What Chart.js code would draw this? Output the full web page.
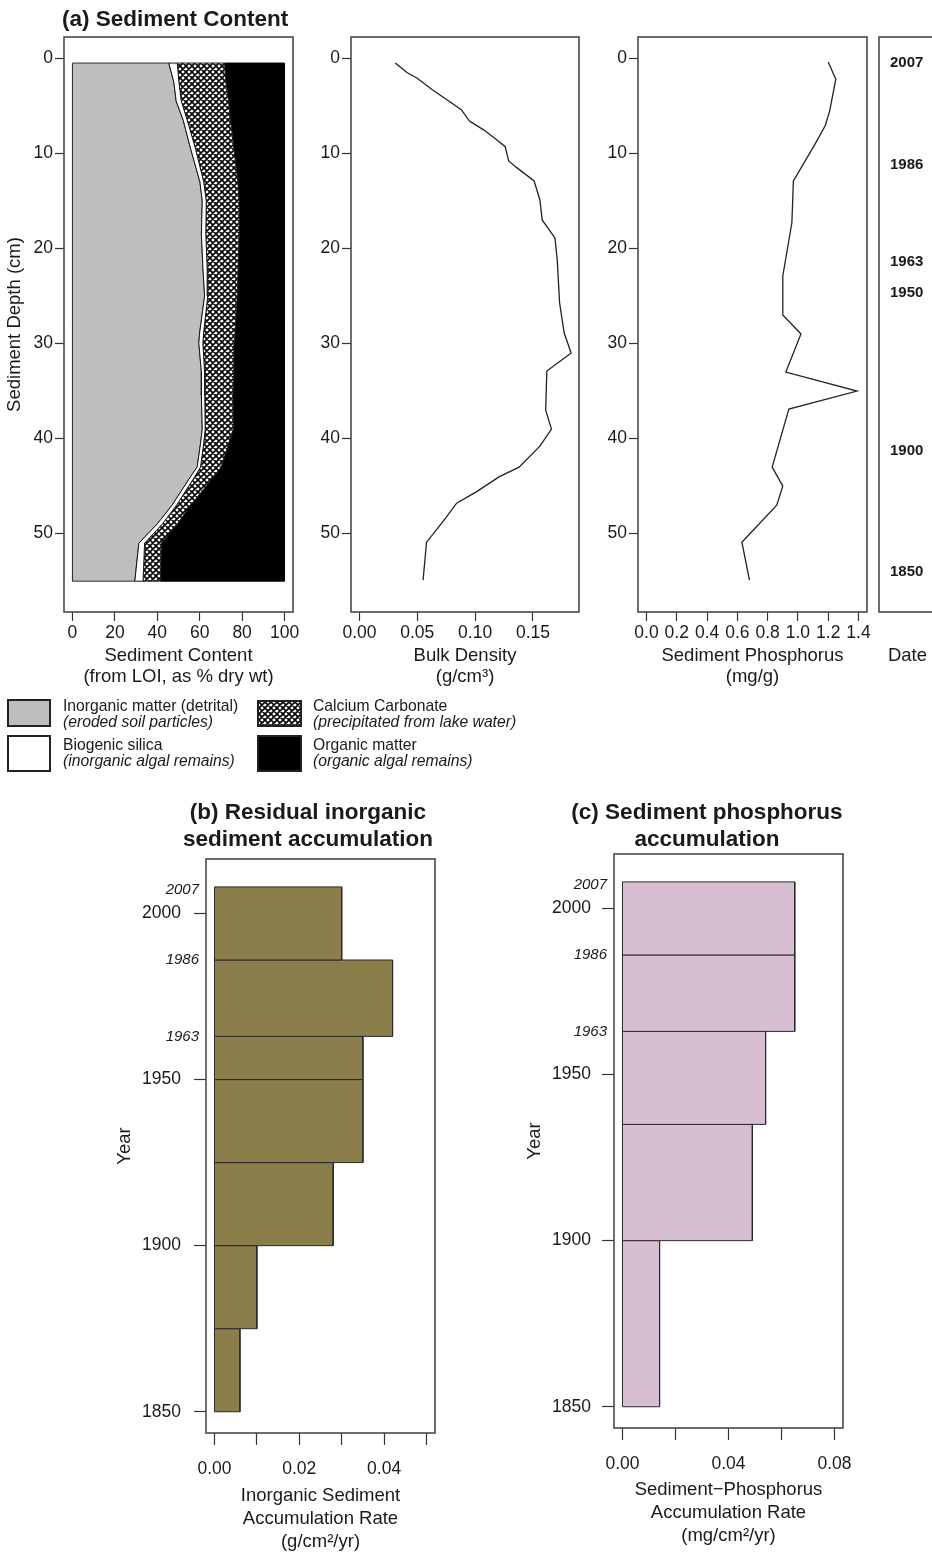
<!DOCTYPE html>
<html>
<head>
<meta charset="utf-8">
<script src="https://cdn.jsdelivr.net/npm/chart.js@4.4.0/dist/chart.umd.min.js"></script>
<style>
html, body { margin: 0; padding: 0; background: #fff; overflow: hidden; }
body { width: 932px; height: 1555px; position: relative; font-family: "Liberation Sans", Arial, sans-serif; color: #1a1a1a; }
canvas, .t, .sw { position: absolute; }
.t { white-space: nowrap; }
.ttl { font-weight: bold; font-size: 22.5px; line-height: 27px; text-align: center; }
.lg { font-size: 15.7px; line-height: 16px; }
.lg i { display: block; }
.sw { border: 2px solid #222; box-sizing: border-box; }
</style>
</head>
<body>
<canvas id="cContent" width="300" height="700" style="left:0;top:0"></canvas>
<canvas id="cBulk" width="290" height="700" style="left:300px;top:0"></canvas>
<canvas id="cPhos" width="285" height="700" style="left:590px;top:0"></canvas>
<canvas id="cDate" width="80" height="700" style="left:870px;top:0"></canvas>
<canvas id="cInorgRate" width="345" height="715" style="left:100px;top:840px"></canvas>
<canvas id="cPhosRate" width="345" height="720" style="left:510px;top:835px"></canvas>

<div class="t ttl" style="left:62px;top:5px;text-align:left">(a) Sediment Content</div>
<div class="t ttl" style="left:108px;top:798px;width:400px">(b) Residual inorganic<br>sediment accumulation</div>
<div class="t ttl" style="left:507px;top:798px;width:400px">(c) Sediment phosphorus<br>accumulation</div>

<!-- legend for (a) -->
<div class="sw" style="left:7px;top:699px;width:44px;height:28px;background:#bebebe"></div>
<div class="t lg" style="left:63px;top:698px">Inorganic matter (detrital)<i>(eroded soil particles)</i></div>
<div class="sw" id="swHatch" style="left:257px;top:700px;width:45px;height:27px"></div>
<div class="t lg" style="left:313px;top:698px">Calcium Carbonate<i>(precipitated from lake water)</i></div>
<div class="sw" style="left:7px;top:735px;width:44px;height:37px;background:#fff"></div>
<div class="t lg" style="left:63px;top:737px">Biogenic silica<i>(inorganic algal remains)</i></div>
<div class="sw" style="left:257px;top:735px;width:45px;height:37px;background:#000"></div>
<div class="t lg" style="left:313px;top:737px">Organic matter<i>(organic algal remains)</i></div>

<script>
// (a) sediment content from LOI, % dry wt, by depth (cm)
const contentDepth = [0.5, 2.5, 4.5, 6.5, 9.5, 13, 15, 18.5, 22, 25, 29, 30, 33, 35.5, 39, 40.5, 43, 44, 47, 49, 51, 55];
const inorganic = [45.4, 47.8, 48.9, 52.2, 55.7, 60.1, 61.2, 60.8, 61.5, 62.3, 59.9, 59.6, 60.8, 60.8, 61.2, 60.4, 58.8, 55.7, 47.0, 39.9, 31.3, 29.4];
const silica = [4.0, 2.4, 2.4, 1.9, 2.3, 1.8, 1.9, 2.1, 2.0, 1.5, 1.9, 1.9, 1.5, 1.6, 1.4, 1.5, 1.6, 2.0, 2.1, 2.4, 2.7, 3.9];
const carbonate = [22.3, 22.1, 22.3, 20.4, 18.1, 16.1, 15.5, 15.7, 14.6, 13.9, 14.8, 14.6, 13.8, 13.2, 13.2, 11.8, 9.7, 9.0, 6.6, 7.1, 7.8, 8.2];
const organic = [28.3, 27.7, 26.4, 25.5, 23.9, 22.0, 21.4, 21.4, 21.9, 22.3, 23.4, 23.9, 23.9, 24.4, 24.2, 26.3, 29.9, 33.3, 44.3, 50.6, 58.2, 58.5];

// bulk density (g/cm3)
const bulkDepth = [0.5, 1.5, 2.1, 3.3, 4.3, 5.4, 5.9, 6.6, 7.5, 8.4, 9.3, 10.8, 11.5, 12.9, 14.9, 17, 18.9, 21.2, 25.7, 28.9, 31, 32.9, 37, 39, 40.8, 43, 44, 45.6, 46.8, 48.6, 50.9, 54.9];
const bulkDensity = [0.031, 0.041, 0.050, 0.063, 0.075, 0.088, 0.091, 0.095, 0.107, 0.117, 0.126, 0.129, 0.136, 0.151, 0.156, 0.158, 0.169, 0.171, 0.173, 0.177, 0.183, 0.162, 0.161, 0.166, 0.156, 0.138, 0.121, 0.101, 0.084, 0.073, 0.058, 0.055];

// sediment phosphorus (mg/g)
const phosDepth = [0.4, 2.2, 5.5, 7.1, 9.1, 12.9, 17.3, 22.9, 27, 29, 33, 35, 36.9, 43, 45, 47, 50.9, 54.9];
const phosphorus = [1.20, 1.25, 1.21, 1.18, 1.11, 0.97, 0.96, 0.90, 0.90, 1.02, 0.92, 1.39, 0.94, 0.83, 0.90, 0.86, 0.63, 0.68];

// dates on the core
const dateDepth = [0.5, 11.2, 21.4, 24.7, 41.3, 54.0];
const dateLabels = ['2007', '1986', '1963', '1950', '1900', '1850'];

// (b) residual inorganic sediment accumulation (g/cm2/yr)
const inorgTop = [2008, 1986, 1963, 1950, 1925, 1900, 1875];
const inorgBottom = [1986, 1963, 1950, 1925, 1900, 1875, 1850];
const inorgRate = [0.030, 0.042, 0.035, 0.035, 0.028, 0.010, 0.006];

// (c) sediment phosphorus accumulation (mg/cm2/yr)
const phosTop = [2008, 1986, 1963, 1935, 1900];
const phosBottom = [1986, 1963, 1935, 1900, 1850];
const phosRate = [0.065, 0.065, 0.054, 0.049, 0.014];

// ticks
const depthTicks = [0, 10, 20, 30, 40, 50];
const contentTicks = [0, 20, 40, 60, 80, 100];
const bulkTicks = [0, 0.05, 0.10, 0.15];
const bulkTickLabels = ['0.00', '0.05', '0.10', '0.15'];
const phosTicks = [0, 0.2, 0.4, 0.6, 0.8, 1.0, 1.2, 1.4];
const phosTickLabels = ['0.0', '0.2', '0.4', '0.6', '0.8', '1.0', '1.2', '1.4'];
const yearTicks = [1850, 1900, 1950, 2000];
const datedYears = [2007, 1986, 1963];
const inorgRateTicks = [0, 0.01, 0.02, 0.03, 0.04, 0.05];
const inorgRateLabels = ['0.00', '', '0.02', '', '0.04', ''];
const phosRateTicks = [0, 0.02, 0.04, 0.06, 0.08];
const phosRateLabels = ['0.00', '', '0.04', '', '0.08'];

const FONT = '"Liberation Sans", Arial, Helvetica, sans-serif';
const INK = '#1a1a1a';

// crosshatch for calcium carbonate
function hatchCanvas() {
  const n = 6;
  const c = document.createElement('canvas');
  c.width = c.height = n;
  const g = c.getContext('2d');
  g.fillStyle = '#fff';
  g.fillRect(0, 0, n, n);
  g.strokeStyle = '#000';
  g.lineWidth = 1.6;
  g.beginPath();
  for (let k = -n; k <= 2 * n; k += n) {
    g.moveTo(k - 1, -1); g.lineTo(k + n + 1, n + 1);
    g.moveTo(k + n + 1, -1); g.lineTo(k - 1, n + 1);
  }
  g.stroke();
  return c;
}
const hatchTile = hatchCanvas();
const hatch = hatchTile.getContext('2d').createPattern(hatchTile, 'repeat');
document.getElementById('swHatch').style.background = 'url(' + hatchTile.toDataURL() + ')';

// box round the plot region
const boxPlugin = {
  id: 'box',
  afterDatasetsDraw(chart) {
    const a = chart.chartArea, ctx = chart.ctx;
    ctx.save();
    ctx.strokeStyle = '#4a4a4a';
    ctx.lineWidth = 1.6;
    ctx.strokeRect(a.left, a.top, a.width, a.height);
    ctx.restore();
  }
};

// italic dating labels beside the year axis
const yearMarks = {
  id: 'yearMarks',
  afterDraw(chart, args, o) {
    const y = chart.scales.y, ctx = chart.ctx;
    ctx.save();
    ctx.font = 'italic 15px ' + FONT;
    ctx.fillStyle = INK;
    ctx.textAlign = 'right';
    ctx.textBaseline = 'middle';
    o.years.forEach(v => ctx.fillText(String(v), chart.chartArea.left - o.gap, y.getPixelForValue(v)));
    ctx.restore();
  }
};

function axis(o) {
  const isX = o.pos === 'bottom';
  return {
    type: 'linear', position: o.pos, min: o.min, max: o.max, reverse: !!o.reverse,
    afterBuildTicks: s => { s.ticks = (o.ticks || []).map(v => ({ value: v })); },
    afterFit: s => {
      if (isX) s.height = o.size; else s.width = o.size;
      s.paddingLeft = s.paddingRight = s.paddingTop = s.paddingBottom = 0;
    },
    border: { display: false },
    grid: { display: o.tl > 0, drawOnChartArea: false, drawTicks: true, tickLength: o.tl || 0, tickWidth: 1.2, tickColor: '#333' },
    ticks: {
      display: !!o.ticks, autoSkip: false, maxRotation: 0, minRotation: 0,
      padding: o.pad || 0, mirror: !!o.mirror, color: INK,
      font: o.font || { family: FONT, size: 17.5, lineHeight: '20.4px' },
      callback: (v, i) => o.labels ? o.labels[i] : String(v)
    },
    title: {
      display: !!o.title, text: o.title, color: INK,
      font: { family: FONT, size: 18.5, lineHeight: o.lh || '21.6px' },
      padding: o.tpad || 0
    }
  };
}

function makeChart(id, datasets, pad, x, y, extra) {
  const plugins = [boxPlugin];
  const pluginOpts = { legend: { display: false }, tooltip: { enabled: false } };
  if (extra) { plugins.push(yearMarks); pluginOpts.yearMarks = extra; }
  return new Chart(document.getElementById(id), {
    type: 'scatter',
    data: { datasets },
    options: {
      responsive: false, animation: false, events: [],
      layout: { padding: pad },
      plugins: pluginOpts,
      scales: { x: axis(x), y: axis(y) }
    },
    plugins
  });
}

// stacked band polygon between two cumulative boundaries
function cumulative(parts) {
  return contentDepth.map((_, i) => parts.reduce((s, a) => s + a[i], 0));
}
function band(lo, hi) {
  const pts = contentDepth.map((d, i) => ({ x: lo[i], y: d }));
  for (let i = contentDepth.length - 1; i >= 0; i--) pts.push({ x: hi[i], y: contentDepth[i] });
  pts.push(pts[0]);
  return pts;
}
const edge0 = contentDepth.map(() => 0);
const edge1 = cumulative([inorganic]);
const edge2 = cumulative([inorganic, silica]);
const edge3 = cumulative([inorganic, silica, carbonate]);
const edge4 = cumulative([inorganic, silica, carbonate, organic]);

function poly(points, fillColor, border) {
  return { data: points, showLine: true, fill: 'shape', backgroundColor: fillColor,
           borderColor: border || '#222', borderWidth: 1, pointRadius: 0 };
}
function profile(depths, values) {
  return { data: depths.map((d, i) => ({ x: values[i], y: d })), showLine: true, fill: false,
           borderColor: '#222', borderWidth: 1.3, pointRadius: 0 };
}
// horizontal bar (value from 0) spanning a year interval
function yearBar(top, bottom, value, color) {
  return poly([{ x: 0, y: top }, { x: value, y: top }, { x: value, y: bottom }, { x: 0, y: bottom }, { x: 0, y: top }], color, '#2a2a2a');
}

const depthAxis = { pos: 'left', min: -2.24, max: 58.24, reverse: true, ticks: depthTicks, tl: 9, pad: 2 };

makeChart('cContent', [
  poly(band(edge1, edge2), '#ffffff', '#111'),
  poly(band(edge0, edge1), '#bebebe', '#333'),
  poly(band(edge2, edge3), hatch, '#222'),
  poly(band(edge3, edge4), '#000000', '#000')
], { top: 37, right: 7, left: 0, bottom: 0 },
  { pos: 'bottom', min: -4, max: 104, ticks: contentTicks, tl: 9, pad: 2, size: 88,
    title: ['Sediment Content', '(from LOI, as % dry wt)'], tpad: { top: 0, bottom: 12 } },
  Object.assign({}, depthAxis, { size: 64, title: 'Sediment Depth (cm)', tpad: { top: 4, bottom: 0 } }));

makeChart('cBulk', [profile(bulkDepth, bulkDensity)],
  { top: 37, right: 11, left: 0, bottom: 0 },
  { pos: 'bottom', min: -0.0073, max: 0.1898, ticks: bulkTicks, labels: bulkTickLabels, tl: 9, pad: 2, size: 88,
    title: ['Bulk Density', '(g/cm³)'], tpad: { top: 0, bottom: 12 } },
  Object.assign({}, depthAxis, { size: 51 }));

makeChart('cPhos', [profile(phosDepth, phosphorus)],
  { top: 37, right: 8, left: 0, bottom: 0 },
  { pos: 'bottom', min: -0.056, max: 1.456, ticks: phosTicks, labels: phosTickLabels, tl: 9, pad: 2, size: 88,
    title: ['Sediment Phosphorus', '(mg/g)'], tpad: { top: 0, bottom: 12 } },
  Object.assign({}, depthAxis, { size: 48 }));

makeChart('cDate', [],
  { top: 37, right: 14, left: 8, bottom: 0 },
  { pos: 'bottom', min: 0, max: 1, tl: 0, size: 88, title: 'Date', tpad: { top: 0, bottom: 33 } },
  { pos: 'left', min: -2.24, max: 58.24, reverse: true, ticks: dateDepth, labels: dateLabels, tl: 0,
    pad: 11, mirror: true, size: 1, font: { family: FONT, size: 15, weight: 'bold' } });

makeChart('cInorgRate', inorgRate.map((v, i) => yearBar(inorgTop[i], inorgBottom[i], v, '#8a7e4b')),
  { top: 19, right: 10, left: 0, bottom: 0 },
  { pos: 'bottom', min: -0.002, max: 0.052, ticks: inorgRateTicks, labels: inorgRateLabels, tl: 12, pad: 14, size: 122,
    title: ['Inorganic Sediment', 'Accumulation Rate', '(g/cm²/yr)'], lh: '23.4px', tpad: { top: 0, bottom: 1 } },
  { pos: 'left', min: 1843.6, max: 2016.4, ticks: yearTicks, tl: 12, pad: 13, size: 106,
    title: 'Year', tpad: { top: 14, bottom: 0 } },
  { years: datedYears, gap: 7 });

makeChart('cPhosRate', phosRate.map((v, i) => yearBar(phosTop[i], phosBottom[i], v, '#d8bed2')),
  { top: 19, right: 12, left: 0, bottom: 0 },
  { pos: 'bottom', min: -0.0032, max: 0.0832, ticks: phosRateTicks, labels: phosRateLabels, tl: 12, pad: 14, size: 127,
    title: ['Sediment−Phosphorus', 'Accumulation Rate', '(mg/cm²/yr)'], lh: '23.4px', tpad: { top: 0, bottom: 7 } },
  { pos: 'left', min: 1843.6, max: 2016.4, ticks: yearTicks, tl: 12, pad: 11, size: 104,
    title: 'Year', tpad: { top: 14, bottom: 0 } },
  { years: datedYears, gap: 7 });
</script>
</body>
</html>
